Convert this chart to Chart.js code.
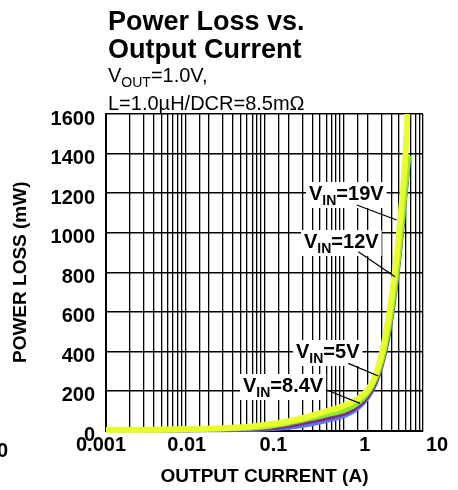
<!DOCTYPE html>
<html><head><meta charset="utf-8">
<script src="https://cdn.jsdelivr.net/npm/chart.js@4/dist/chart.umd.min.js"></script>
<style>html,body{margin:0;padding:0;background:#fff;}canvas{display:block;}</style>
</head><body>
<canvas id="c" width="458" height="490"></canvas>
<script>
// ---- data ----
const currents = [0.001, 0.002, 0.005, 0.01, 0.02, 0.05, 0.1, 0.2, 0.3, 0.5, 0.7, 1, 1.5, 2, 2.5, 3, 3.5, 4, 4.5, 5, 5.5, 6, 6.35, 6.6];
const loss19V = [3, 3, 5, 7, 10, 17, 28, 47, 62, 88, 105, 125, 160, 205, 278, 385, 520, 670, 830, 1010, 1190, 1390, 1600, null];
const loss12V = [1, 1.5, 2.5, 4, 6, 10, 18, 37, 52, 70, 85, 100, 138, 188, 258, 350, 465, 600, 745, 900, 1060, 1225, 1315, 1390];
const loss8V4 = [0.5, 0.7, 1, 1.5, 2.5, 4, 8, 22, 36, 54, 67, 84, 120, 172, 240, 332, 442, 575, 720, 872, 1030, 1195, 1295, 1380];
const loss5V  = [0.3, 0.5, 0.7, 1, 1.5, 2, 5, 14, 23, 40, 54, 71, 110, 162, 232, 322, 432, 562, 705, 858, 1018, 1182, 1280, 1360];
const seriesNames = ['VIN=19V', 'VIN=12V', 'VIN=8.4V', 'VIN=5V'];
const xTickValues = [0.001, 0.01, 0.1, 1, 10];
const xTickLabels = ['0.001', '0.01', '0.1', '1', '10'];
const yTickValues = [0, 200, 400, 600, 800, 1000, 1200, 1400, 1600];
const titleLines = ['Power Loss vs.', 'Output Current'];
const xAxisTitle = 'OUTPUT CURRENT (A)';
const yAxisTitle = 'POWER LOSS (mW)';

// ---- styling / layout ----
const FONT = '"Liberation Sans", Arial, Helvetica, sans-serif';
const xLabelShift = [-5, 1.5, 9, 21, 14];
const annotations = [
  {main: 'V', sub: 'IN', rest: '=19V', x: 309, y: 200, from: [356.7, 205], to: [396.7, 220]},
  {main: 'V', sub: 'IN', rest: '=12V', x: 304, y: 248, from: [358.3, 251.7], to: [395, 276.7]},
  {main: 'V', sub: 'IN', rest: '=5V', x: 296, y: 358, from: [348.3, 363.3], to: [378.3, 376]},
  {main: 'V', sub: 'IN', rest: '=8.4V', x: 243, y: 392, from: [326.7, 390], to: [360, 403.3]}
];

function pts(arr) { return currents.map((c, i) => ({x: c, y: arr[i]})).filter(p => p.y !== null); }

function drawSub(ctx, x, y, main, sub, rest, big, small, weight, drop) {
  ctx.font = weight + ' ' + big + 'px ' + FONT;
  ctx.fillText(main, x, y);
  let w = ctx.measureText(main).width;
  ctx.font = weight + ' ' + small + 'px ' + FONT;
  ctx.fillText(sub, x + w, y + drop);
  w += ctx.measureText(sub).width;
  ctx.font = weight + ' ' + big + 'px ' + FONT;
  ctx.fillText(rest, x + w, y);
  w += ctx.measureText(rest).width;
  return w;
}

const textPlugin = {
  id: 'texts',
  afterDraw(chart) {
    const ctx = chart.ctx;
    ctx.save();
    ctx.fillStyle = '#000';
    ctx.textBaseline = 'alphabetic';
    ctx.textAlign = 'left';
    ctx.font = 'bold 27px ' + FONT;
    ctx.fillText(titleLines[0], 108, 30);
    ctx.fillText(titleLines[1], 108, 58);
    drawSub(ctx, 108, 82, 'V', 'OUT', '=1.0V,', 20, 14, 'normal', 5);
    ctx.font = 'normal 20px ' + FONT;
    ctx.fillText('L=1.0\u00B5H/DCR=8.5m\u03A9', 108, 110);
    const xs = chart.scales.x;
    ctx.font = 'bold 20px ' + FONT;
    ctx.textAlign = 'center';
    ctx.textBaseline = 'middle';
    xTickValues.forEach((v, i) => {
      ctx.fillText(xTickLabels[i], xs.getPixelForValue(v) + xLabelShift[i], 445);
    });
    ctx.textAlign = 'left';
    ctx.fillText('0', -3, 451);
    ctx.restore();
  },
  afterDatasetsDraw(chart) {
    const ctx = chart.ctx;
    ctx.save();
    ctx.textBaseline = 'alphabetic';
    ctx.textAlign = 'left';
    annotations.forEach(a => {
      ctx.font = 'bold 20px ' + FONT;
      let w = ctx.measureText(a.main).width + ctx.measureText(a.rest).width;
      ctx.font = 'bold 14px ' + FONT;
      w += ctx.measureText(a.sub).width;
      ctx.fillStyle = '#fff';
      ctx.fillRect(a.x - 3, a.y - 18, w + 6, 26);
      ctx.fillStyle = '#000';
      drawSub(ctx, a.x, a.y, a.main, a.sub, a.rest, 20, 14, 'bold', 5);
      ctx.strokeStyle = '#000';
      ctx.lineWidth = 1.3;
      ctx.beginPath();
      ctx.moveTo(a.from[0], a.from[1]);
      ctx.lineTo(a.to[0], a.to[1]);
      ctx.stroke();
    });
    ctx.restore();
  }
};

new Chart(document.getElementById('c'), {
  type: 'line',
  data: {
    datasets: [
      {label: seriesNames[3], data: pts(loss5V), borderColor: '#5a7ee0', borderWidth: 4, order: 3},
      {label: seriesNames[2], data: pts(loss8V4), borderColor: '#7d2a9c', borderWidth: 4, order: 2},
      {label: seriesNames[1], data: pts(loss12V), borderColor: '#8fe82c', borderWidth: 5, order: 1},
      {label: seriesNames[0], data: pts(loss19V), borderColor: '#e8ff2e', borderWidth: 6, order: 0}
    ]
  },
  options: {
    responsive: false,
    animation: false,
    devicePixelRatio: 1,
    layout: {padding: {top: 114, right: 35, left: 0, bottom: 0}},
    elements: {
      point: {radius: 0, hoverRadius: 0},
      line: {cubicInterpolationMode: 'monotone', fill: false, borderCapStyle: 'butt'}
    },
    datasets: {line: {clip: {left: 4, right: 4, top: 0, bottom: 6}}},
    plugins: {legend: {display: false}, tooltip: {enabled: false}, title: {display: false}},
    scales: {
      x: {
        type: 'logarithmic',
        min: 0.001, max: 10,
        afterFit(s) { s.height = 59.5; },
        grid: {color: '#000', lineWidth: 1.3, drawTicks: false},
        border: {display: true, color: '#000', width: 2},
        ticks: {display: false},
        title: {display: true, text: xAxisTitle, color: '#000', font: {family: FONT, size: 19, weight: 'bold'}, padding: {top: 0, bottom: 2}}
      },
      y: {
        min: 0, max: 1600,
        afterFit(s) { s.width = 106; },
        afterBuildTicks(s) { s.ticks = yTickValues.map(v => ({value: v})); },
        grid: {color: '#000', lineWidth: 1.5, drawTicks: false},
        border: {display: true, color: '#000', width: 2},
        ticks: {color: '#000', padding: 11, labelOffset: 5, font: {family: FONT, size: 20, weight: 'bold'}, callback: v => String(v)},
        title: {display: true, text: yAxisTitle, color: '#000', font: {family: FONT, size: 19, weight: 'bold'}, padding: {top: 9, bottom: 0}}
      }
    }
  },
  plugins: [textPlugin]
});
</script>
</body></html>
